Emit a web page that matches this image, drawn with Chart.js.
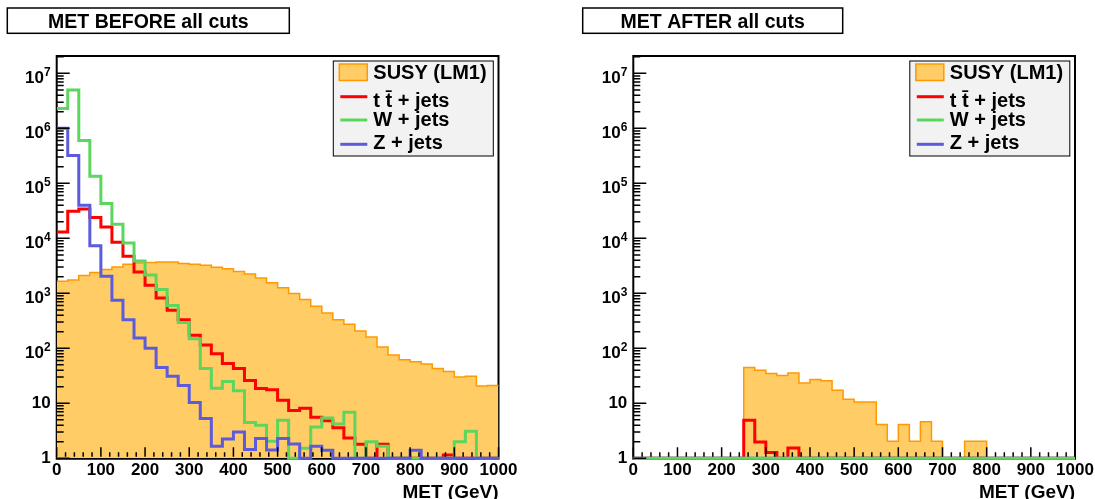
<!DOCTYPE html>
<html>
<head>
<meta charset="utf-8">
<script src="https://cdn.jsdelivr.net/npm/chart.js@4.4.1/dist/chart.umd.min.js"></script>
<style>
  body { margin: 0; background: #fff; }
  #wrap { position: relative; width: 1095px; height: 499px; }
  canvas { position: absolute; top: 0; }
</style>
</head>
<body>
<div id="wrap">
  <canvas id="before" width="548" height="499" style="left:0"></canvas>
  <canvas id="after" width="547" height="499" style="left:548px"></canvas>
</div>
<script>
// bin edges in GeV (40 bins of 25 GeV)
const binEdges = [0, 25, 50, 75, 100, 125, 150, 175, 200, 225, 250, 275, 300, 325, 350, 375, 400, 425, 450, 475,
  500, 525, 550, 575, 600, 625, 650, 675, 700, 725, 750, 775, 800, 825, 850, 875, 900, 925, 950, 975, 1000]
const xTicks = [0, 100, 200, 300, 400, 500, 600, 700, 800, 900, 1000]
const yTicks = [1, 10, 100, 1000, 10000, 100000, 1000000, 10000000]
const legendLabels = ['SUSY (LM1)', 't t\u0304 + jets', 'W + jets', 'Z + jets']

// events per bin, before cuts
const susyBefore = [1660, 1750, 2100, 2400, 2720, 3000, 3370, 3550, 3650, 3720, 3700, 3500, 3380, 3250, 2980, 2800, 2500, 2250, 1900, 1550,
  1260, 990, 770, 580, 440, 332, 273, 206, 160, 106, 76, 62, 57, 52, 43, 38, 30, 31, 20.6, 21]
const ttBefore = [13000, 31000, 34000, 24000, 16000, 8500, 4700, 2440, 1400, 820, 490, 330, 172, 115, 80, 53, 43, 26, 18.5, 17.7,
  11.4, 7.4, 8.1, 5.6, 4.8, 3.6, 2.35, 1.8, 0, 1.8, 0, 0, 0, 0, 0, 1.15, 0, 0, 0, 0]
const wBefore = [2300000, 5000000, 600000, 135000, 43000, 18000, 8200, 3870, 2150, 1180, 600, 295, 150, 43, 18.7, 25, 17, 4.5, 4.0, 2.05,
  4.9, 0, 1.52, 3.7, 5.4, 4.2, 6.9, 0, 2.0, 1.65, 0, 0, 0, 0, 0, 0, 2.0, 3.1, 0, 0]
const zBefore = [1000000, 320000, 40000, 7300, 2040, 746, 332, 154, 100, 45, 31, 21, 10.3, 5.3, 1.66, 2.25, 3.0, 1.44, 2.28, 1.42,
  2.28, 1.82, 0, 1.65, 1.4, 0, 0, 0, 0, 0, 0, 0, 1.4, 0, 0, 0, 0, 0, 0, 0]

// events per bin, after cuts
const susyAfter = [0, 0, 0, 0, 0, 0, 0, 0, 0, 0, 44.6, 40, 35, 32, 35.6, 23.5, 27, 25.8, 17.2, 11.8,
  10.6, 10.6, 4.1, 2.04, 4.1, 2.04, 4.6, 2.04, 0, 0, 2.04, 2.04, 0, 0, 0, 0, 0, 0, 0, 0]
const ttAfter = [0, 0, 0, 0, 0, 0, 0, 0, 0, 0, 4.9, 1.98, 1.27, 0, 1.54, 0, 0, 0, 0, 0,
  0, 0, 0, 0, 0, 0, 0, 0, 0, 0, 0, 0, 0, 0, 0, 0, 0, 0, 0, 0]
const wAfter = [0, 0, 0, 0, 0, 0, 0, 0, 0, 0, 0, 0, 0, 0, 0, 0, 0, 0, 0, 0,
  0, 0, 0, 0, 0, 0, 0, 0, 0, 0, 0, 0, 0, 0, 0, 0, 0, 0, 0, 0]
const zAfter = [0, 0, 0, 0, 0, 0, 0, 0, 0, 0, 0, 0, 0, 0, 0, 0, 0, 0, 0, 0,
  0, 0, 0, 0, 0, 0, 0, 0, 0, 0, 0, 0, 0, 0, 0, 0, 0, 0, 0, 0]

const ORANGE_FILL = '#ffcc66'
const ORANGE_LINE = '#ff9900'
const RED = '#ff0000'
const GREEN = '#5cd65c'
const BLUE = '#5b5bdc'
const FONT = '"Liberation Sans", Arial, Helvetica, sans-serif'

// empty bins sit on the floor of the log axis
const histPoints = (vals) => binEdges.map((e, i) => ({ x: e, y: Math.max(vals[Math.min(i, vals.length - 1)], 1) }))

const histSet = (vals, color, width, order, fillColor) => ({
  data: histPoints(vals),
  stepped: true,
  borderColor: color,
  borderWidth: width,
  borderJoinStyle: 'miter',
  pointRadius: 0,
  fill: fillColor ? 'start' : false,
  backgroundColor: fillColor || 'transparent',
  clip: { left: 0, top: 0, right: 2, bottom: 2 },
  order: order
})

const rootFrame = {
  id: 'rootFrame',
  beforeDatasetsDraw(chart) {
    const { ctx, chartArea: a } = chart
    ctx.save()
    ctx.strokeStyle = '#000'
    ctx.lineWidth = 2
    ctx.beginPath()
    ctx.moveTo(a.left, a.bottom + 0.5)
    ctx.lineTo(a.left, a.top)
    ctx.lineTo(a.right, a.top)
    ctx.lineTo(a.right, a.bottom + 0.5)
    ctx.closePath()
    ctx.stroke()
    ctx.restore()
  },
  afterDatasetsDraw(chart, args, opts) {
    const { ctx, chartArea: a } = chart
    const x = chart.scales.x
    const y = chart.scales.y
    ctx.save()
    ctx.strokeStyle = '#000'
    ctx.fillStyle = '#000'
    ctx.lineWidth = 1.5

    // y ticks, drawn inside the frame
    ctx.beginPath()
    for (let d = 0; d < 8; d++) {
      for (let k = 1; k < 10; k++) {
        const v = k * Math.pow(10, d)
        if (v > y.max) break
        const py = y.getPixelForValue(v)
        ctx.moveTo(a.left, py)
        ctx.lineTo(a.left + (k === 1 ? 13 : 7), py)
      }
    }
    // x ticks every 20 GeV, long ones every 100
    for (let v = 0; v <= 1000; v += 20) {
      const px = x.getPixelForValue(v)
      ctx.moveTo(px, a.bottom - 1.5)
      ctx.lineTo(px, a.bottom - (v % 100 === 0 ? 11 : 6))
    }
    ctx.stroke()

    // y labels
    ctx.textAlign = 'right'
    yTicks.forEach((v) => {
      const py = y.getPixelForValue(v)
      const exp = Math.round(Math.log10(v))
      if (exp < 2) {
        ctx.font = 'bold 17px ' + FONT
        ctx.textBaseline = 'middle'
        ctx.fillText(String(v), a.left - 6, py)
      } else {
        ctx.textBaseline = 'alphabetic'
        ctx.font = 'bold 12px ' + FONT
        ctx.fillText(String(exp), a.left - 6, py + 3)
        const w = ctx.measureText(String(exp)).width
        ctx.font = 'bold 17px ' + FONT
        ctx.fillText('10', a.left - 6 - w, py + 10)
      }
    })

    // x labels
    ctx.textAlign = 'center'
    ctx.textBaseline = 'alphabetic'
    ctx.font = 'bold 17px ' + FONT
    xTicks.forEach((v) => ctx.fillText(String(v), x.getPixelForValue(v), 475))

    ctx.textAlign = 'right'
    ctx.font = 'bold 19px ' + FONT
    ctx.fillText('MET (GeV)', a.right, 497.5)

    // title box
    const t = opts.titleBox
    ctx.lineWidth = 1.5
    ctx.strokeRect(t.left, 8, t.width, 25.3)
    ctx.textAlign = 'center'
    ctx.font = 'bold 19.5px ' + FONT
    ctx.fillText(opts.title, t.left + t.width / 2, 28)

    // legend
    const lx = a.right - 165.2
    const ly = a.top + 5
    ctx.fillStyle = '#f2f2f2'
    ctx.fillRect(lx, ly, 160, 95)
    ctx.lineWidth = 1
    ctx.strokeStyle = '#000'
    ctx.strokeRect(lx, ly, 160, 95)

    ctx.fillStyle = ORANGE_FILL
    ctx.fillRect(lx + 6, ly + 3, 28, 16.5)
    ctx.strokeStyle = ORANGE_LINE
    ctx.lineWidth = 1.5
    ctx.strokeRect(lx + 6, ly + 3, 28, 16.5)

    const lineColors = [RED, GREEN, BLUE]
    const lineY = [35.7, 59, 83.3]
    ctx.lineWidth = 3
    lineColors.forEach((c, i) => {
      ctx.strokeStyle = c
      ctx.beginPath()
      ctx.moveTo(lx + 7, ly + lineY[i])
      ctx.lineTo(lx + 34, ly + lineY[i])
      ctx.stroke()
    })

    const baseY = [18.3, 46, 64.7, 87.5]
    ctx.fillStyle = '#000'
    ctx.textAlign = 'left'
    ctx.font = 'bold 20px ' + FONT
    legendLabels.forEach((lbl, i) => ctx.fillText(lbl, lx + 40, ly + baseY[i]))

    ctx.restore()
  }
}

function makeChart(id, title, titleBox, padding, sets) {
  return new Chart(document.getElementById(id), {
    type: 'line',
    data: { datasets: sets },
    options: {
      responsive: false,
      animation: false,
      devicePixelRatio: 1,
      layout: { padding: padding },
      scales: {
        x: { type: 'linear', min: 0, max: 1000, display: false },
        y: { type: 'logarithmic', min: 1, max: 2.07e7, display: false }
      },
      plugins: {
        legend: { display: false },
        tooltip: { enabled: false },
        rootFrame: { title: title, titleBox: titleBox }
      }
    },
    plugins: [rootFrame]
  })
}

makeChart('before', 'MET BEFORE all cuts', { left: 7.3, width: 282 },
  { left: 56.7, right: 49.5, top: 56, bottom: 40.7 },
  [
    histSet(susyBefore, ORANGE_LINE, 1.5, 4, ORANGE_FILL),
    histSet(ttBefore, RED, 3, 3),
    histSet(wBefore, GREEN, 3, 2),
    histSet(zBefore, BLUE, 3, 1)
  ])

makeChart('after', 'MET AFTER all cuts', { left: 34.7, width: 260 },
  { left: 85.3, right: 20, top: 56, bottom: 40.7 },
  [
    histSet(susyAfter, ORANGE_LINE, 1.5, 4, ORANGE_FILL),
    histSet(ttAfter, RED, 3, 3),
    histSet(zAfter, BLUE, 3, 2),
    histSet(wAfter, GREEN, 3, 1)
  ])
</script>
</body>
</html>
